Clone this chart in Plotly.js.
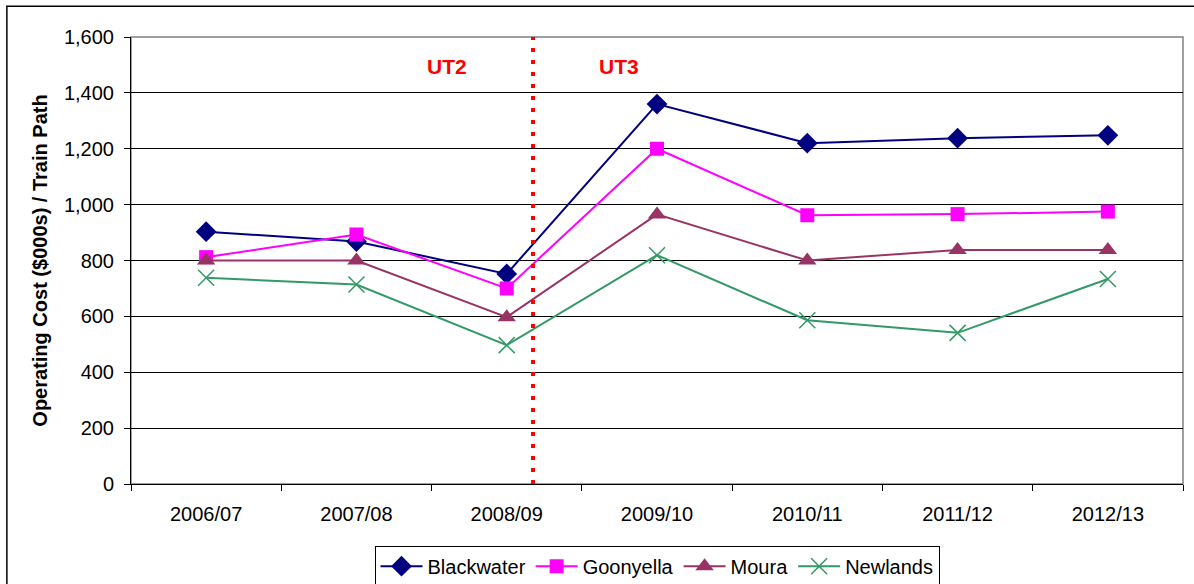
<!DOCTYPE html>
<html>
<head>
<meta charset="utf-8">
<script src="https://cdn.plot.ly/plotly-3.0.1.min.js"></script>
<style>
  html, body { margin: 0; padding: 0; background: #fff; }
  #chart { width: 1194px; height: 584px; }
</style>
</head>
<body>
<div id="chart"></div>
<script>
// years on the x axis
var years = ['2006/07', '2007/08', '2008/09', '2009/10', '2010/11', '2011/12', '2012/13'];

// operating cost ($000s) per train path
var blackwater = [903, 868, 752, 1360, 1220, 1238, 1248];
var goonyella = [812, 893, 700, 1200, 962, 966, 975];
var moura = [800, 800, 597, 965, 800, 838, 838];
var newlands = [738, 714, 497, 819, 586, 541, 734];

// where the UT2 / UT3 split sits (category index)
var splitAt = 2.175;
var periodLabels = ['UT2', 'UT3'];
var periodPos = [1.6, 2.75];
var periodY = 1496;

var font = 'Arial, "Liberation Sans", sans-serif';

function series(name, y, color, symbol, size) {
  return {
    x: years,
    y: y,
    name: name,
    type: 'scatter',
    mode: 'lines+markers',
    line: { color: color, width: 2 },
    marker: {
      symbol: symbol,
      size: size,
      color: color,
      line: { color: color, width: symbol == 'x-thin-open' ? 1.5 : 0 }
    },
    hoverinfo: 'skip'
  };
}

var data = [
  series('Blackwater', blackwater, '#000080', 'diamond', 16),
  series('Goonyella', goonyella, '#ff00ff', 'square', 14),
  series('Moura', moura, '#993366', 'triangle-up', 16),
  series('Newlands', newlands, '#339966', 'x-thin-open', 16)
];

var annotations = [];
for (var i = 0; i < periodLabels.length; i++) {
  annotations.push({
    x: periodPos[i], y: periodY, xref: 'x', yref: 'y',
    text: '<b>' + periodLabels[i] + '</b>',
    showarrow: false,
    font: { family: font, size: 21, color: '#ff0000' }
  });
}

var layout = {
  width: 1194,
  height: 584,
  margin: { l: 131, r: 11, t: 37, b: 100, autoexpand: false },
  paper_bgcolor: '#ffffff',
  plot_bgcolor: '#ffffff',
  font: { family: font, size: 20, color: '#000' },
  showlegend: true,
  legend: {
    orientation: 'h',
    x: 0.5, xanchor: 'center',
    y: -0.138, yanchor: 'top',
    bordercolor: '#000', borderwidth: 1,
    itemwidth: 42,
    font: { family: font, size: 20, color: '#000' },
    itemclick: false
  },
  xaxis: {
    type: 'category',
    range: [-0.5, 6.5],
    showgrid: false,
    showline: true, linecolor: '#000', linewidth: 1,
    ticks: 'outside', tickson: 'boundaries', ticklen: 6, tickcolor: '#000',
    ticklabelstandoff: 12,
    tickfont: { family: font, size: 20 },
    fixedrange: true
  },
  yaxis: {
    range: [0, 1600],
    dtick: 200,
    tickformat: ',d',
    showgrid: true, gridcolor: '#000', gridwidth: 1,
    zeroline: false,
    showline: true, linecolor: '#000', linewidth: 1,
    ticks: 'outside', ticklen: 6, tickcolor: '#000',
    ticklabelstandoff: 6,
    tickfont: { family: font, size: 20 },
    title: { text: '<b>Operating Cost ($000s) / Train Path</b>', font: { family: font, size: 20 }, standoff: 10 },
    fixedrange: true
  },
  shapes: [
    // outer chart frame (top and left visible)
    { type: 'rect', xref: 'paper', yref: 'paper', x0: -0.118, x1: 1.03, y0: -0.25, y1: 1.069,
      line: { color: '#000', width: 1.5 }, layer: 'below' },
    // grey plot-area border
    { type: 'rect', xref: 'paper', yref: 'paper', x0: 0, x1: 1, y0: 0, y1: 1,
      line: { color: '#808080', width: 1.5 }, layer: 'below' },
    // UT2 / UT3 divider
    { type: 'line', xref: 'x', yref: 'y', x0: splitAt, x1: splitAt, y0: 0, y1: 1600,
      line: { color: '#ff0000', width: 4, dash: '4px,8px' } }
  ],
  annotations: annotations
};

Plotly.newPlot('chart', data, layout, { displayModeBar: false, staticPlot: true });
</script>
</body>
</html>
